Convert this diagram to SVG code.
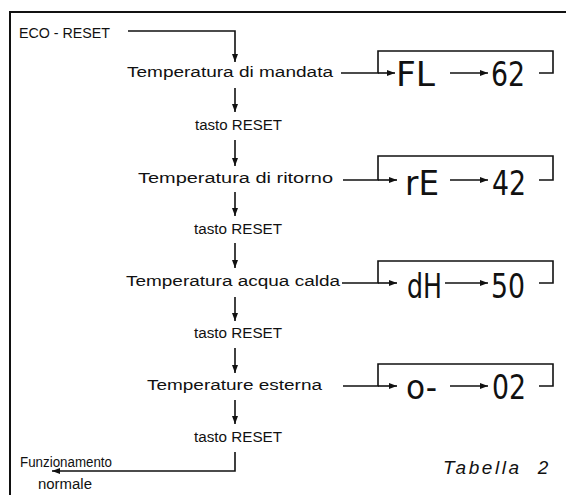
<svg xmlns="http://www.w3.org/2000/svg" width="566" height="495" viewBox="0 0 566 495">
<style>
.lbl{font-family:"Liberation Sans",Arial,sans-serif;font-size:14px;fill:#111}
.seg{font-family:"DejaVu Sans Condensed","Liberation Sans",sans-serif;font-size:34px;font-weight:300;fill:#111}
.ln{fill:none;stroke:#111;stroke-width:1.6}
.frame{fill:none;stroke:#111;stroke-width:2}
.cap{font-family:"Liberation Sans",Arial,sans-serif;font-size:19px;font-style:italic;fill:#111;letter-spacing:2.6px;word-spacing:8px}
</style>
<defs>
<marker id="ah" viewBox="0 0 8 6" refX="8" refY="3" markerWidth="8" markerHeight="6" markerUnits="userSpaceOnUse" orient="auto">
<path d="M0,0 L8,3 L0,6 Z" fill="#111"/>
</marker>
</defs>
<rect width="566" height="495" fill="#fff"/>
<path class="frame" d="M10,497 V12 H568"/>

<g id="connectors">
<path class="ln" d="M128,31 H235 V62" marker-end="url(#ah)"/>
<path class="ln" d="M235,88 V112" marker-end="url(#ah)"/>
<path class="ln" d="M235,140 V166" marker-end="url(#ah)"/>
<path class="ln" d="M235,192 V216" marker-end="url(#ah)"/>
<path class="ln" d="M235,243 V268" marker-end="url(#ah)"/>
<path class="ln" d="M235,297 V321" marker-end="url(#ah)"/>
<path class="ln" d="M235,348 V373" marker-end="url(#ah)"/>
<path class="ln" d="M235,400 V424" marker-end="url(#ah)"/>
<path class="ln" d="M235,452 V471 H52" marker-end="url(#ah)"/>
<!-- display 1 -->
<path class="ln" d="M341,73 H378 V51 H553 V73 H539"/>
<path class="ln" d="M378,73 H395" marker-end="url(#ah)"/>
<path class="ln" d="M450,73 H488" marker-end="url(#ah)"/>
<!-- display 2 -->
<path class="ln" d="M343,180 H378 V156 H553 V180 H539"/>
<path class="ln" d="M378,180 H397" marker-end="url(#ah)"/>
<path class="ln" d="M450,180 H488" marker-end="url(#ah)"/>
<!-- display 3 -->
<path class="ln" d="M342,283 H378 V261 H553 V283 H539"/>
<path class="ln" d="M378,283 H397" marker-end="url(#ah)"/>
<path class="ln" d="M445,283 H488" marker-end="url(#ah)"/>
<!-- display 4 -->
<path class="ln" d="M343,386 H378 V364 H553 V386 H539"/>
<path class="ln" d="M378,386 H397" marker-end="url(#ah)"/>
<path class="ln" d="M450,386 H488" marker-end="url(#ah)"/>
</g>

<g id="start"><text class="lbl" x="19" y="38" textLength="91" lengthAdjust="spacingAndGlyphs">ECO - RESET</text></g>
<g id="t-mandata"><text class="lbl" x="127" y="77" textLength="206" lengthAdjust="spacingAndGlyphs">Temperatura di mandata</text></g>
<g id="reset1"><text class="lbl" x="195" y="130" textLength="87" lengthAdjust="spacingAndGlyphs">tasto RESET</text></g>
<g id="t-ritorno"><text class="lbl" x="138" y="183" textLength="195" lengthAdjust="spacingAndGlyphs">Temperatura di ritorno</text></g>
<g id="reset2"><text class="lbl" x="194" y="234" textLength="88" lengthAdjust="spacingAndGlyphs">tasto RESET</text></g>
<g id="t-acqua"><text class="lbl" x="126" y="286" textLength="214" lengthAdjust="spacingAndGlyphs">Temperatura acqua calda</text></g>
<g id="reset3"><text class="lbl" x="194" y="338" textLength="88" lengthAdjust="spacingAndGlyphs">tasto RESET</text></g>
<g id="t-esterna"><text class="lbl" x="147" y="390" textLength="175" lengthAdjust="spacingAndGlyphs">Temperature esterna</text></g>
<g id="reset4"><text class="lbl" x="194" y="442" textLength="88" lengthAdjust="spacingAndGlyphs">tasto RESET</text></g>
<g id="end">
<text class="lbl" x="20" y="467" font-size="13.5" textLength="92" lengthAdjust="spacingAndGlyphs">Funzionamento</text>
<text class="lbl" x="38" y="489" font-size="13" textLength="54" lengthAdjust="spacingAndGlyphs">normale</text>
</g>

<g id="disp1">
<text class="seg" x="396" y="86" textLength="39" lengthAdjust="spacingAndGlyphs">FL</text>
<text class="seg" x="491" y="86" textLength="34" lengthAdjust="spacingAndGlyphs">62</text>
</g>
<g id="disp2">
<text class="seg" x="405" y="195" textLength="34" lengthAdjust="spacingAndGlyphs">rE</text>
<text class="seg" x="492" y="195" textLength="34" lengthAdjust="spacingAndGlyphs">42</text>
</g>
<g id="disp3">
<text class="seg" x="407" y="298" textLength="35" lengthAdjust="spacingAndGlyphs">dH</text>
<text class="seg" x="491" y="298" textLength="34" lengthAdjust="spacingAndGlyphs">50</text>
</g>
<g id="disp4">
<text class="seg" x="406" y="399" textLength="31" lengthAdjust="spacingAndGlyphs">o-</text>
<text class="seg" x="492" y="399" textLength="34" lengthAdjust="spacingAndGlyphs">02</text>
</g>

<g id="caption"><text class="cap" x="443" y="474">Tabella 2</text></g>
</svg>
